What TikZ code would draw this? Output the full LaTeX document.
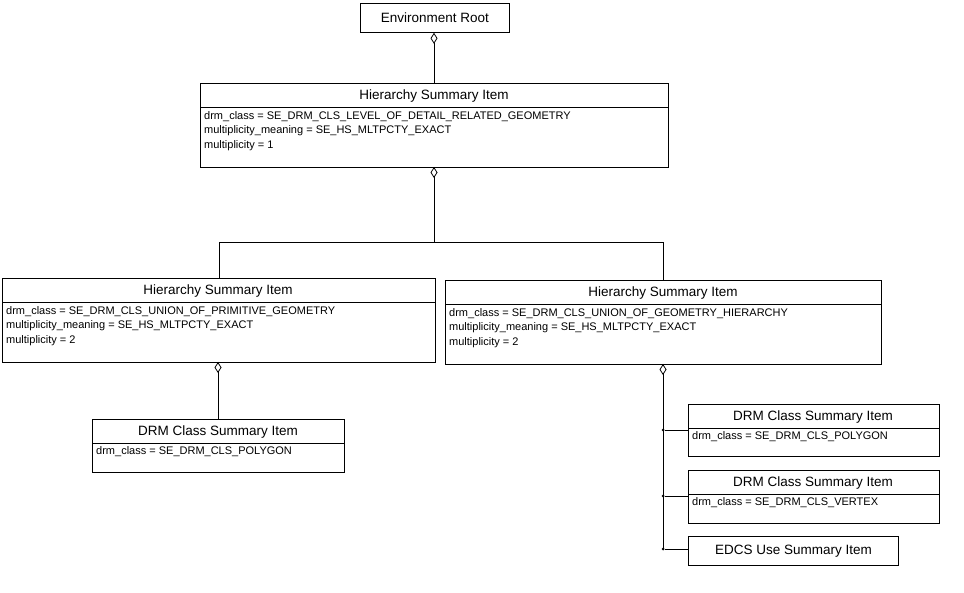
\documentclass[tikz,border=0pt]{standalone}
\usepackage{fontspec}
\setmainfont{Liberation Sans}
\usetikzlibrary{arrows.meta}
\begin{document}
\begin{tikzpicture}[x=1pt,y=-1pt,
  box/.style={draw,line width=0.8pt,anchor=north west,inner sep=0pt},
  ttl/.style={font=\fontsize{13.5}{15}\selectfont,inner sep=0pt},
  att/.style={font=\fontsize{11}{14.5}\selectfont,align=left,anchor=north west,inner sep=0pt},
  con/.style={line width=0.8pt},
  dia/.style={{Diamond[open,length=11pt,width=7pt]}-},
  dot/.style={circle,fill,inner sep=0pt,minimum size=3pt}]
\useasboundingbox (0,0) rectangle (964,593);
% boxes: name, x1,y1,x2,y2
\node[box,minimum width=149pt,minimum height=29pt] (er) at (360,3) {};
\node[ttl] at (er.center) {Environment Root};

\node[box,minimum width=468pt,minimum height=84pt] (h1) at (200,83) {};
\node[ttl] at (434,96) {Hierarchy Summary Item};
\draw[con] (200,107) -- (668,107);
\node[att] (a1) at (204,111) {drm\_class = SE\_DRM\_CLS\_LEVEL\_OF\_DETAIL\_RELATED\_GEOMETRY\\multiplicity\_meaning = SE\_HS\_MLTPCTY\_EXACT\\multiplicity = 1};

\node[box,minimum width=433pt,minimum height=84pt] (h2) at (2,278) {};
\node[ttl] at (218,291) {Hierarchy Summary Item};
\draw[con] (2,302) -- (435,302);
\node[att] (a2) at (6,306) {drm\_class = SE\_DRM\_CLS\_UNION\_OF\_PRIMITIVE\_GEOMETRY\\multiplicity\_meaning = SE\_HS\_MLTPCTY\_EXACT\\multiplicity = 2};

\node[box,minimum width=436pt,minimum height=84pt] (h3) at (445,280) {};
\node[ttl] at (663,293) {Hierarchy Summary Item};
\draw[con] (445,304) -- (881,304);
\node[att] (a3) at (449,308) {drm\_class = SE\_DRM\_CLS\_UNION\_OF\_GEOMETRY\_HIERARCHY\\multiplicity\_meaning = SE\_HS\_MLTPCTY\_EXACT\\multiplicity = 2};

\node[box,minimum width=252pt,minimum height=53pt] (d1) at (92,419) {};
\node[ttl] at (218,432) {DRM Class Summary Item};
\draw[con] (92,443) -- (344,443);
\node[att] (b1) at (96,446) {drm\_class = SE\_DRM\_CLS\_POLYGON};

\node[box,minimum width=251pt,minimum height=52pt] (d2) at (688,404) {};
\node[ttl] at (813,417) {DRM Class Summary Item};
\draw[con] (688,428) -- (939,428);
\node[att] (b2) at (692,431) {drm\_class = SE\_DRM\_CLS\_POLYGON};

\node[box,minimum width=251pt,minimum height=53pt] (d3) at (688,470) {};
\node[ttl] at (813,483) {DRM Class Summary Item};
\draw[con] (688,494) -- (939,494);
\node[att] (b3) at (692,497) {drm\_class = SE\_DRM\_CLS\_VERTEX};

\node[box,minimum width=210pt,minimum height=29pt] (ed) at (688,536) {};
\node[ttl] at (ed.center) {EDCS Use Summary Item};

% connectors
\draw[con,dia] (er.south -| 434,0) -- (434,83);
\coordinate (j) at (434,242);
\draw[con,dia] (434,167) -- (j);
\draw[con] (219,278) -- (219,242) -- (663,242) -- (663,280);
\draw[con,dia] (218,362) -- (218,419);
\coordinate (t) at (663,549);
\draw[con,dia] (663,364) -- (t);
\node[dot] (p1) at (663,430) {};
\node[dot] (p2) at (663,496) {};
\node[dot] (p3) at (663,549) {};
\draw[con] (p1) -- (d2.west |- p1);
\draw[con] (p2) -- (d3.west |- p2);
\draw[con] (p3) -- (ed.west |- p3);
\end{tikzpicture}
\end{document}
